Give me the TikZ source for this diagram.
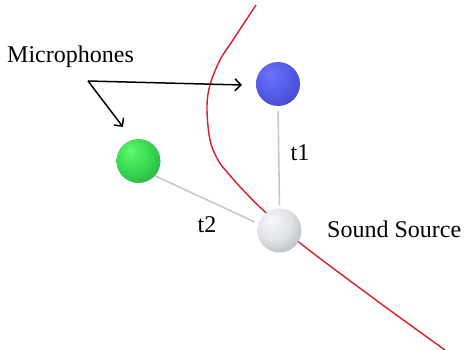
\documentclass[tikz,border=0pt]{standalone}
\usepackage{fontspec}
\setmainfont{Liberation Serif}
\usetikzlibrary{arrows.meta}
\definecolor{curvered}{RGB}{220,30,40}
\definecolor{linkgray}{RGB}{200,200,200}
\pgfdeclareradialshading{blueball}{\pgfpoint{-10bp}{12bp}}{%
  rgb(0bp)=(0.42,0.45,1.0); rgb(20bp)=(0.33,0.36,0.92); rgb(45bp)=(0.24,0.25,0.72); rgb(70bp)=(0.2,0.2,0.6)}
\pgfdeclareradialshading{greenball}{\pgfpoint{-10bp}{12bp}}{%
  rgb(0bp)=(0.38,0.98,0.42); rgb(20bp)=(0.22,0.85,0.32); rgb(45bp)=(0.14,0.62,0.24); rgb(70bp)=(0.1,0.5,0.2)}
\pgfdeclareradialshading{grayball}{\pgfpoint{-10bp}{12bp}}{%
  rgb(0bp)=(0.97,0.97,0.98); rgb(20bp)=(0.88,0.89,0.91); rgb(45bp)=(0.62,0.63,0.65); rgb(70bp)=(0.5,0.5,0.52)}
\tikzset{
  sphere/.style={circle, minimum size=44pt, inner sep=0pt},
  lbl/.style={font=\fontsize{24}{28}\selectfont, inner sep=0pt},
  link/.style={draw=linkgray, line width=1.6pt},
  pointer/.style={draw=black, line width=1.5pt, -{Straight Barb[length=6pt,width=12pt,line width=1.5pt]}}
}
\begin{document}
\begin{tikzpicture}[x=1pt,y=-1pt]
\useasboundingbox (0,0) rectangle (464,350);
% red curve
\draw[curvered, line width=1.4pt] plot[smooth, tension=0.6] coordinates
  {(256,5) (233,40) (220,60) (210,85) (207,108) (210,140) (218,160) (227,172) (243,190) (263,210) (300,243) (380,303) (445,350)};
% spheres
\node[sphere, shading=blueball] (blue) at (278,84) {};
\node[sphere, shading=greenball] (green) at (138.5,161) {};
\node[sphere, shading=grayball] (src) at (279.5,230.5) {};
% links
\draw[link, shorten <=5pt, shorten >=3pt] (blue.south) -- (src.north);
\draw[link, shorten >=4pt] (green.-42) -- (src.162);
% labels
\node[lbl] (t1) at (300,153) {t1};
\node[lbl] (t2) at (207,225) {t2};
\node[lbl, anchor=west] (ss) at (327,229) {Sound Source};
\node[lbl, anchor=west] (mic) at (7,57) {Microphones};
% pointers
\coordinate (mstart) at (88,81);
\coordinate (bluetip) at (242,85);
\coordinate (greentip) at (123,127);
\draw[pointer] (mstart) -- (bluetip);
\draw[pointer] (mstart) -- (greentip);
\end{tikzpicture}
\end{document}
